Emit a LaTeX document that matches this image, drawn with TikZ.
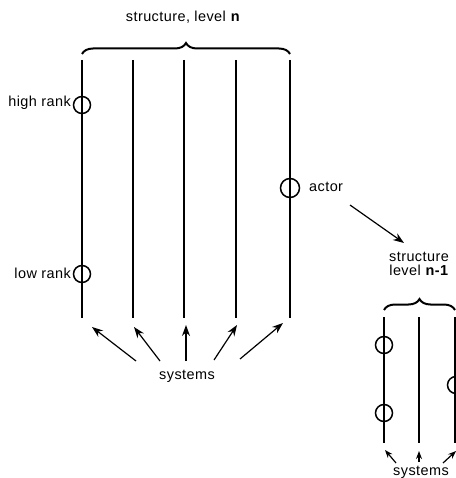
\documentclass[tikz,border=0pt]{standalone}
\usepackage{fontspec}
\setmainfont{Liberation Sans}[LetterSpace=3]
\usetikzlibrary{decorations.pathreplacing,arrows.meta}
\begin{document}
\begin{tikzpicture}[x=1bp,y=1bp,
  lbl/.style={font=\fontsize{14.5}{16}\selectfont, inner sep=0pt},
  sysline/.style={line width=1.8bp, line cap=butt},
  rankcirc/.style={circle, draw, line width=1.5bp, minimum size=17bp, inner sep=0pt},
  sysarrow/.style={line width=1.2bp, -{Stealth[length=11bp,width=8bp]}},
  bracestyle/.style={line width=2bp, decorate, decoration={brace, amplitude=11bp}}]
\useasboundingbox (0,0) rectangle (456,-478);
% main structure level n
\foreach \i/\x in {1/82,2/133,3/184,4/236,5/290}{
  \coordinate (t\i) at (\x,-60);
  \coordinate (b\i) at (\x,-318);
  \draw[sysline] (t\i) -- (b\i);
}
\draw[bracestyle] (82,-54) -- (290,-54);
\node[lbl] (title) at (183,-17) {structure, level \textbf{n}};
\node[rankcirc] (hi) at (82,-105) {};
\node[rankcirc] (lo) at (82,-274) {};
\node[rankcirc, minimum size=19bp] (act) at (290,-188) {};
\node[lbl, anchor=east] (hil) at (71,-103) {high rank};
\node[lbl, anchor=east] (lol) at (71,-273) {low rank};
\node[lbl, anchor=west] (actl) at (309,-187) {actor};
\node[lbl] (sys) at (187,-376) {systems};
\coordinate (a1) at (136,-361); \coordinate (h1) at (92,-327);
\coordinate (a2) at (160,-361); \coordinate (h2) at (134,-327);
\coordinate (a3) at (186,-361); \coordinate (h3) at (186,-325);
\coordinate (a4) at (214,-360); \coordinate (h4) at (237,-325);
\coordinate (a5) at (240,-359); \coordinate (h5) at (283,-323);
\foreach \i in {1,...,5}{ \draw[sysarrow] (a\i) -- (h\i); }
% arrow to sub structure
\coordinate (as) at (350,-205);
\coordinate (ae) at (404,-243);
\draw[sysarrow] (as) -- (ae);
\node[lbl, align=center] (sub) at (419,-264) {structure\\[-2pt]level \textbf{n-1}};
% sub structure
\foreach \i/\x in {1/384,2/419,3/455}{
  \coordinate (st\i) at (\x,-317);
  \coordinate (sb\i) at (\x,-443);
  \draw[sysline] (st\i) -- (sb\i);
}
\draw[bracestyle] (384,-310) -- (455,-310);
\node[rankcirc] (sc1) at (384,-345) {};
\node[rankcirc] (sc2) at (384,-413) {};
\node[rankcirc] (sc3) at (456,-385) {};
\node[lbl] (ssys) at (421,-472) {systems};
\coordinate (sa1) at (396,-463); \coordinate (sh1) at (385,-450);
\coordinate (sa2) at (419,-462); \coordinate (sh2) at (419,-451);
\coordinate (sa3) at (443,-463); \coordinate (sh3) at (456,-451);
\foreach \i in {1,2,3}{ \draw[sysarrow, -{Stealth[length=8bp,width=6bp]}] (sa\i) -- (sh\i); }
\end{tikzpicture}
\end{document}
